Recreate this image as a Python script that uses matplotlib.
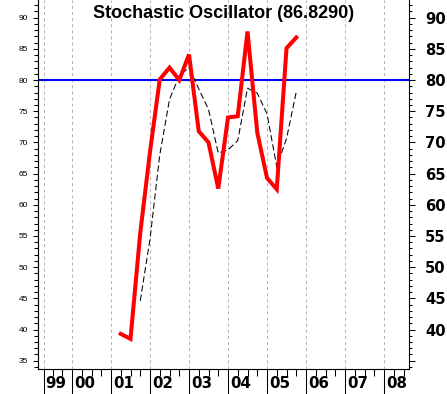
import numpy as np
import matplotlib
matplotlib.use('Agg')
import matplotlib.pyplot as plt
from matplotlib.ticker import MultipleLocator, FixedLocator, NullFormatter
import matplotlib.transforms as mtransforms

# quarterly dates and values
dates = [2001.25, 2001.5, 2001.75, 2002.0, 2002.25, 2002.5, 2002.75, 2003.0,
         2003.25, 2003.5, 2003.75, 2004.0, 2004.25, 2004.5, 2004.75, 2005.0,
         2005.25, 2005.5, 2005.75]
k_line = [39.3, 38.5, 55.5, 68.5, 80.1, 82.0, 80.0, 84.1,
          71.8, 70.0, 62.6, 74.0, 74.2, 87.8, 71.6, 64.3,
          62.5, 85.1, 86.829]
d_dates = dates[2:]
d_line = [44.6, 54.5, 68.0, 76.9, 80.7, 82.0, 78.6, 75.3,
          68.3, 68.8, 70.3, 78.7, 77.9, 74.6, 66.1, 70.6, 78.1]
level = 80
last_val = '86.8290'

year_pos = [1999.28, 2000, 2001, 2002, 2003, 2004, 2005, 2006, 2007, 2008]
year_lab = ['99', '00', '01', '02', '03', '04', '05', '06', '07', '08']
quarters = [1999.5, 1999.75] + [y + q for y in range(2000, 2009) for q in (0.25, 0.5, 0.75)]

plt.rcParams['lines.scale_dashes'] = False

W, H = 447, 394
fig = plt.figure(figsize=(W/100, H/100), dpi=100)
ax = fig.add_axes([38/W, 25/H, 371/W, 369/H])

ax.set_xlim(1999.128, 2008.641)
ax.set_ylim(33.67, 92.84)

for yp in year_pos:
    ax.axvline(yp, color='#b4b4b4', lw=0.75, dashes=(2.2, 2.2), zorder=1)

ax.axhline(level, color='#0000ff', lw=1.5, zorder=2)
ax.plot(d_dates, d_line, color='black', lw=0.75, dashes=(4.5, 2.2), zorder=3)
ax.plot(dates, k_line, color='#ff0000', lw=2.9, solid_joinstyle='miter', zorder=4)

ax.text(0.5, 1 - 13/369, 'Stochastic Oscillator (%s)' % last_val, transform=ax.transAxes,
        ha='center', va='center', fontsize=13, fontweight='bold', family='Liberation Sans')

for s in ['top']:
    ax.spines[s].set_visible(False)
for s in ['left', 'right', 'bottom']:
    ax.spines[s].set_linewidth(0.75)

# left axis: small labels
ax.yaxis.set_major_locator(MultipleLocator(5))
ax.yaxis.set_minor_locator(MultipleLocator(1))
ax.tick_params(axis='y', which='major', direction='out', length=3.6, width=0.75,
               labelsize=6, pad=3.4)
ax.tick_params(axis='y', which='minor', direction='out', length=2.6, width=0.75)
for t in ax.get_yticklabels():
    t.set_family('Liberation Sans')

# right axis: bold labels
ax2 = ax.twinx()
ax2.set_ylim(ax.get_ylim())
ax2.spines['top'].set_visible(False)
ax2.spines['right'].set_linewidth(0.75)
ax2.yaxis.set_major_locator(FixedLocator(list(range(35, 95, 5))))
ax2.yaxis.set_minor_locator(MultipleLocator(1))
ax2.set_yticklabels([''] + [str(v) for v in range(40, 95, 5)])
ax2.tick_params(axis='y', which='major', direction='out', length=4.3, width=0.75,
                labelsize=10.6, pad=7.3)
ax2.tick_params(axis='y', which='minor', direction='out', length=2.4, width=0.75)
for t in ax2.get_yticklabels():
    t.set_fontweight('bold')

# x axis: year boundaries and quarters
ax.xaxis.set_major_locator(FixedLocator(year_pos))
ax.xaxis.set_minor_locator(FixedLocator(quarters))
ax.xaxis.set_major_formatter(NullFormatter())
ax.tick_params(axis='x', which='major', direction='out', length=18, width=0.75)
ax.tick_params(axis='x', which='minor', direction='out', length=5, width=0.75)

trans = mtransforms.blended_transform_factory(ax.transData, ax.transAxes)
for yp, lab in zip(year_pos, year_lab):
    ax.text(yp + 0.045, -15/369, lab, transform=trans, ha='left', va='center',
            fontsize=10.8, fontweight='bold', clip_on=False)

fig.savefig('out.png', dpi=100)
